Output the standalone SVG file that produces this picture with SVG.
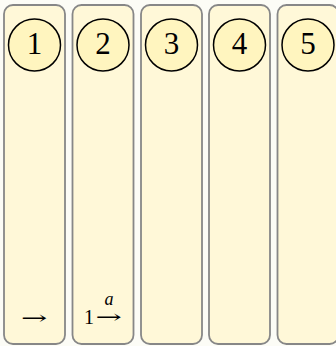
<svg xmlns="http://www.w3.org/2000/svg" width="336" height="346" viewBox="0 0 336 346">
  <style>
    .col { fill: #fff8d8; stroke: #878787; stroke-width: 1.8; }
    .st { fill: #fff5bf; stroke: #000; stroke-width: 1.5; }
    .num { font-family: "Liberation Serif", "Times New Roman", serif; font-size: 31px; fill: #000; text-anchor: middle; }
    .lbl { font-family: "Liberation Serif", "Times New Roman", serif; font-size: 20px; fill: #000; }
    .arr { font-family: "DejaVu Serif", serif; font-size: 18px; fill: #000; }
    .sup { font-family: "Liberation Serif", "Times New Roman", serif; font-size: 18px; font-style: italic; fill: #000; text-anchor: middle; }
  </style>
  <rect x="0" y="0" width="336" height="346" fill="#fcfcf6"/>
  <g id="col1">
    <rect class="col" x="4" y="5" width="61" height="339" rx="9"/>
    <circle class="st" cx="34.5" cy="45" r="26"/>
    <text class="num" x="34.5" y="54">1</text>
    <text class="arr" transform="translate(21,324) scale(1.75,1)">→</text>
  </g>
  <g id="col2">
    <rect class="col" x="72.5" y="5" width="61" height="339" rx="9"/>
    <circle class="st" cx="103" cy="45" r="26"/>
    <text class="num" x="103" y="54">2</text>
    <text class="lbl" x="84" y="324">1</text>
    <text class="arr" transform="translate(95.5,323) scale(1.75,1)">→</text>
    <text class="sup" x="109" y="305">a</text>
  </g>
  <g id="col3">
    <rect class="col" x="141" y="5" width="61" height="339" rx="9"/>
    <circle class="st" cx="171.5" cy="45" r="26"/>
    <text class="num" x="171.5" y="54">3</text>
  </g>
  <g id="col4">
    <rect class="col" x="209" y="5" width="61" height="339" rx="9"/>
    <circle class="st" cx="239.5" cy="45" r="26"/>
    <text class="num" x="239.5" y="54">4</text>
  </g>
  <g id="col5">
    <rect class="col" x="277.5" y="5" width="61" height="339" rx="9"/>
    <circle class="st" cx="308" cy="45" r="26"/>
    <text class="num" x="308" y="54">5</text>
  </g>
  <g id="connectors"></g>
</svg>
